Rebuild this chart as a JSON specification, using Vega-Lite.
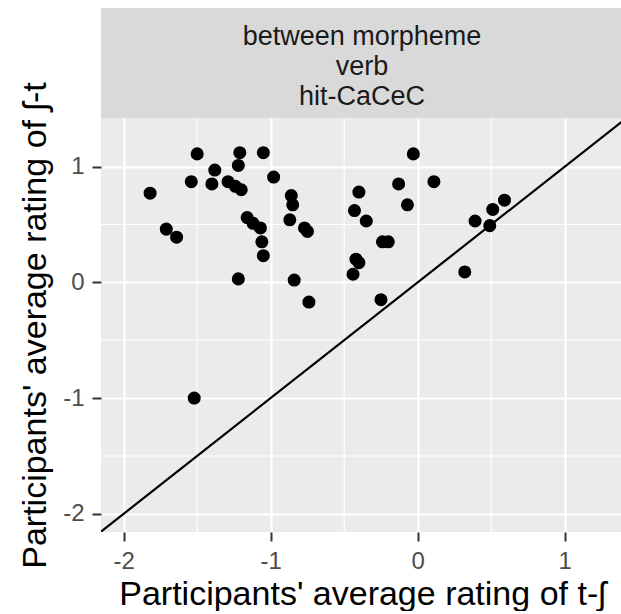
{
  "$schema": "https://vega.github.io/schema/vega-lite/v6.json",
  "padding": {"left": 18, "top": 8, "right": 0, "bottom": 0},
  "spacing": 0,
  "bounds": "flush",
  "config": {
    "font": "Liberation Sans",
    "view": {"stroke": null},
    "axis": {
      "domain": false,
      "grid": true,
      "gridColor": "#FFFFFF",
      "gridWidth": 2.2,
      "tickColor": "#333333",
      "tickWidth": 2,
      "tickSize": 9,
      "labelFontSize": 24,
      "labelColor": "#4D4D4D",
      "labelPadding": 8,
      "titleFontSize": 34,
      "titleFontWeight": "normal",
      "titleColor": "#000000"
    }
  },
  "datasets": {
    "ratings": [
      {"t_sh": -1.50, "sh_t": 1.11}, {"t_sh": -1.21, "sh_t": 1.12}, {"t_sh": -1.05, "sh_t": 1.12},
      {"t_sh": -1.22, "sh_t": 1.01}, {"t_sh": -1.38, "sh_t": 0.97}, {"t_sh": -1.54, "sh_t": 0.87},
      {"t_sh": -1.40, "sh_t": 0.85}, {"t_sh": -1.29, "sh_t": 0.87}, {"t_sh": -1.24, "sh_t": 0.83},
      {"t_sh": -1.20, "sh_t": 0.80}, {"t_sh": -0.98, "sh_t": 0.91}, {"t_sh": -1.82, "sh_t": 0.77},
      {"t_sh": -0.86, "sh_t": 0.75}, {"t_sh": -0.85, "sh_t": 0.67}, {"t_sh": -0.87, "sh_t": 0.54},
      {"t_sh": -1.16, "sh_t": 0.56}, {"t_sh": -1.12, "sh_t": 0.51}, {"t_sh": -1.07, "sh_t": 0.47},
      {"t_sh": -1.06, "sh_t": 0.35}, {"t_sh": -1.05, "sh_t": 0.23}, {"t_sh": -0.77, "sh_t": 0.47},
      {"t_sh": -0.75, "sh_t": 0.44}, {"t_sh": -1.71, "sh_t": 0.46}, {"t_sh": -1.64, "sh_t": 0.39},
      {"t_sh": -1.22, "sh_t": 0.03}, {"t_sh": -0.84, "sh_t": 0.02}, {"t_sh": -0.74, "sh_t": -0.17},
      {"t_sh": -1.52, "sh_t": -1.00}, {"t_sh": -0.25, "sh_t": -0.15}, {"t_sh": -0.03, "sh_t": 1.11},
      {"t_sh": -0.40, "sh_t": 0.78}, {"t_sh": -0.13, "sh_t": 0.85}, {"t_sh": 0.11, "sh_t": 0.87},
      {"t_sh": -0.07, "sh_t": 0.67}, {"t_sh": -0.43, "sh_t": 0.62}, {"t_sh": -0.35, "sh_t": 0.53},
      {"t_sh": -0.24, "sh_t": 0.35}, {"t_sh": -0.20, "sh_t": 0.35}, {"t_sh": -0.42, "sh_t": 0.20},
      {"t_sh": -0.40, "sh_t": 0.17}, {"t_sh": -0.44, "sh_t": 0.07}, {"t_sh": 0.32, "sh_t": 0.09},
      {"t_sh": 0.39, "sh_t": 0.53}, {"t_sh": 0.51, "sh_t": 0.63}, {"t_sh": 0.49, "sh_t": 0.49},
      {"t_sh": 0.59, "sh_t": 0.71}
    ],
    "minor": [{"at": -1.5}, {"at": -0.5}, {"at": 0.5}],
    "identity": [{"from": -3, "to": 2}],
    "strip": [
      {"line": "between morpheme", "order": 1},
      {"line": "verb", "order": 2},
      {"line": "hit-CaCeC", "order": 3}
    ]
  },
  "vconcat": [
    {
      "width": 522,
      "height": 110,
      "view": {"fill": "#D9D9D9", "stroke": null},
      "data": {"name": "strip"},
      "mark": {"type": "text", "fontSize": 27, "color": "#1A1A1A", "baseline": "middle", "dy": 4},
      "encoding": {
        "y": {"field": "line", "type": "nominal", "sort": {"field": "order"}, "axis": null,
              "scale": {"type": "point", "padding": 0.86}},
        "text": {"field": "line"}
      }
    },
    {
      "width": 522,
      "height": 414,
      "view": {"fill": "#EBEBEB", "stroke": null},
      "layer": [
        {
          "data": {"name": "minor"},
          "mark": {"type": "rule", "color": "#FFFFFF", "strokeWidth": 1.1},
          "encoding": {"x": {"field": "at", "type": "quantitative"}}
        },
        {
          "data": {"name": "minor"},
          "mark": {"type": "rule", "color": "#FFFFFF", "strokeWidth": 1.1},
          "encoding": {"y": {"field": "at", "type": "quantitative"}}
        },
        {
          "data": {"name": "ratings"},
          "mark": {"type": "point", "filled": true, "color": "#000000", "opacity": 1, "size": 170},
          "encoding": {
            "x": {"field": "t_sh", "type": "quantitative"},
            "y": {"field": "sh_t", "type": "quantitative"}
          }
        },
        {
          "data": {"name": "identity"},
          "mark": {"type": "rule", "color": "#000000", "strokeWidth": 2.2, "clip": true},
          "encoding": {
            "x": {"field": "from", "type": "quantitative"},
            "y": {"field": "from", "type": "quantitative"},
            "x2": {"field": "to"},
            "y2": {"field": "to"}
          }
        }
      ],
      "encoding": {
        "x": {
          "type": "quantitative",
          "scale": {"domain": [-2.154, 1.396], "nice": false, "zero": false},
          "axis": {
            "title": "Participants' average rating of t-ʃ",
            "values": [-2, -1, 0, 1],
            "labelExpr": "datum.value < 0 ? '-' + abs(datum.value) : '' + datum.value",
            "titlePadding": 4
          }
        },
        "y": {
          "type": "quantitative",
          "scale": {"domain": [-2.157, 1.42], "nice": false, "zero": false},
          "axis": {
            "title": "Participants' average rating of ʃ-t",
            "values": [-2, -1, 0, 1],
            "labelExpr": "datum.value < 0 ? '-' + abs(datum.value) : '' + datum.value",
            "titlePadding": 10
          }
        }
      }
    }
  ]
}
